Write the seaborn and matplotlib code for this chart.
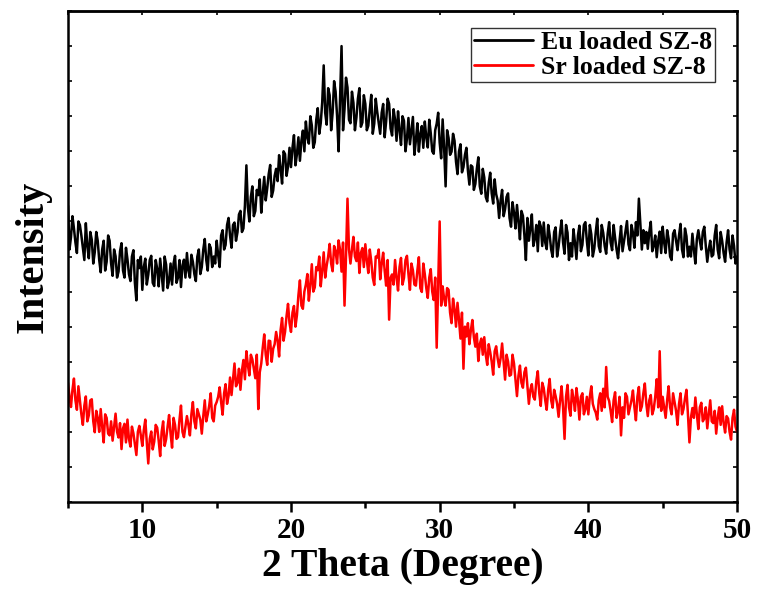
import numpy as np
import pandas as pd
import matplotlib
matplotlib.use("Agg")
import matplotlib.pyplot as plt
import seaborn as sns
from matplotlib.ticker import MultipleLocator

# 2-theta scan grid (degrees), 0.1 degree step from 5 to 50
two_theta = np.round(np.linspace(5.0, 50.0, 451), 1)

# Diffracted intensity (a.u.), ten steps per row = one degree per row
eu_intensity = [
    845, 720, 755, 815, 780, 740, 710, 800, 790, 760,
    725, 690, 795, 730, 695, 770, 748, 680, 712, 770,
    745, 690, 655, 720, 745, 660, 685, 760, 745, 680,
    645, 720, 701, 640, 657, 715, 738, 660, 640, 725,
    692, 650, 630, 700, 718, 625, 575, 690, 667, 700,
    605, 670, 694, 620, 648, 690, 702, 625, 616, 690,
    665, 615, 694, 650, 603, 700, 677, 610, 631, 680,
    620, 680, 702, 625, 640, 690, 613, 675, 691, 640,
    710, 660, 640, 705, 685, 650, 630, 700, 720, 650,
    670, 720, 750, 690, 660, 735, 725, 670, 700, 680,
    745, 705, 670, 760, 775, 720, 733, 790, 810, 760,
    725, 790, 797, 745, 769, 820, 830, 770, 780, 845,
    960, 840, 800, 870, 900, 815, 830, 890, 875, 920,
    825, 880, 927, 860, 894, 935, 961, 870, 888, 930,
    950, 915, 989, 950, 908, 1000, 992, 930, 956, 1010,
    955, 1010, 1046, 960, 992, 1040, 973, 1030, 1059, 1000,
    1085, 1040, 1022, 1100, 1074, 1010, 1026, 1090, 1123, 1050,
    1080, 1140, 1245, 1110, 1076, 1180, 1160, 1060, 1110, 1200,
    1170, 1100, 1000, 1150, 1300, 1060, 1120, 1210, 1182, 1090,
    1080, 1170, 1138, 1060, 1096, 1150, 1180, 1070, 1082, 1160,
    1135, 1060, 1073, 1120, 1161, 1050, 1079, 1150, 1112, 1080,
    1050, 1110, 1135, 1040, 1085, 1150, 1135, 1065, 1045, 1120,
    1090, 1030, 1114, 1060, 1018, 1100, 1087, 1000, 1036, 1095,
    1020, 1060, 1098, 990, 1031, 1080, 999, 1050, 1072, 1010,
    1085, 1040, 1011, 1090, 1052, 1000, 993, 1060, 1079, 1110,
    1025, 980, 1091, 1010, 900, 1060, 1038, 990, 999, 1050,
    1030, 970, 935, 1000, 1020, 940, 955, 990, 1010, 945,
    905, 960, 956, 890, 907, 950, 983, 900, 879, 950,
    925, 870, 857, 910, 939, 880, 851, 920, 878, 860,
    810, 860, 890, 815, 835, 870, 880, 810, 785, 855,
    825, 780, 847, 800, 749, 830, 816, 760, 690, 810,
    745, 780, 820, 730, 750, 790, 715, 800, 786, 730,
    797, 740, 721, 790, 760, 720, 699, 770, 783, 700,
    728, 770, 803, 740, 708, 790, 768, 690, 738, 700,
    778, 740, 693, 760, 788, 715, 733, 790, 798, 745,
    703, 790, 763, 700, 723, 770, 808, 730, 713, 790,
    768, 730, 708, 765, 798, 740, 718, 790, 753, 720,
    695, 745, 787, 715, 744, 775, 801, 735, 718, 790,
    768, 725, 798, 760, 865, 790, 720, 775, 738, 770,
    722, 770, 799, 715, 731, 760, 698, 745, 771, 710,
    785, 740, 710, 775, 750, 700, 690, 765, 775, 745,
    718, 760, 793, 720, 698, 780, 758, 700, 728, 700,
    765, 720, 680, 750, 775, 745, 720, 770, 785, 730,
    685, 720, 745, 700, 705, 760, 790, 720, 695, 770,
    745, 710, 685, 740, 775, 720, 695, 760, 730, 680,
    700,
]

sr_intensity = [
    340, 300, 271, 320, 352, 290, 263, 330, 289, 250,
    220, 275, 301, 230, 247, 290, 293, 230, 199, 260,
    240, 200, 265, 215, 170, 250, 240, 195, 190, 230,
    175, 215, 252, 200, 184, 225, 151, 210, 223, 170,
    235, 180, 158, 215, 196, 165, 134, 200, 217, 190,
    160, 205, 235, 170, 110, 180, 201, 150, 172, 220,
    212, 175, 131, 200, 230, 160, 179, 215, 248, 195,
    155, 240, 220, 180, 185, 235, 275, 200, 185, 215,
    245, 220, 190, 250, 285, 230, 210, 265, 250, 235,
    195, 245, 290, 230, 250, 275, 310, 240, 230, 275,
    285, 300, 327, 285, 249, 310, 336, 280, 303, 355,
    305, 350, 395, 330, 340, 380, 320, 375, 405, 350,
    430, 390, 361, 420, 407, 380, 353, 420, 265, 370,
    395, 440, 478, 420, 391, 460, 459, 400, 437, 450,
    485, 460, 415, 490, 525, 460, 485, 530, 565, 510,
    485, 540, 559, 500, 533, 590, 632, 560, 551, 600,
    620, 650, 574, 620, 678, 600, 612, 670, 661, 700,
    615, 660, 712, 640, 674, 700, 736, 680, 658, 730,
    715, 680, 746, 720, 657, 740, 560, 700, 865, 720,
    680, 720, 756, 700, 687, 740, 653, 710, 724, 670,
    735, 690, 653, 720, 686, 640, 619, 700, 697, 720,
    635, 680, 711, 660, 617, 690, 520, 640, 649, 620,
    690, 640, 603, 670, 696, 620, 639, 690, 702, 650,
    605, 680, 661, 620, 617, 660, 698, 610, 599, 680,
    650, 610, 582, 640, 664, 600, 576, 640, 440, 620,
    800, 560, 615, 580, 560, 610, 605, 540, 510, 580,
    550, 500, 568, 520, 466, 540, 380, 500, 472, 510,
    450, 490, 519, 470, 443, 480, 402, 450, 466, 420,
    470, 420, 391, 450, 427, 400, 363, 430, 444, 410,
    385, 410, 452, 400, 349, 420, 401, 360, 363, 420,
    395, 350, 302, 360, 389, 340, 326, 370, 383, 330,
    280, 320, 336, 300, 292, 345, 373, 310, 274, 340,
    325, 290, 263, 320, 351, 290, 269, 320, 302, 280,
    243, 290, 330, 270, 180, 300, 334, 270, 246, 320,
    295, 260, 325, 290, 235, 300, 310, 250, 265, 300,
    250, 300, 330, 280, 265, 255, 235, 290, 310, 260,
    323, 270, 385, 300, 288, 260, 228, 290, 313, 240,
    260, 300, 190, 270, 240, 310, 300, 250, 270, 290,
    318, 270, 233, 300, 328, 260, 273, 310, 338, 280,
    245, 290, 305, 250, 265, 300, 350, 270, 430, 260,
    300, 270, 240, 290, 330, 270, 250, 310, 285, 260,
    220, 280, 310, 250, 265, 295, 320, 250, 170, 240,
    268, 240, 298, 250, 208, 270, 283, 230, 238, 270,
    210, 250, 290, 230, 225, 260, 195, 240, 270, 220,
    273, 225, 198, 245, 238, 200, 178, 240, 263, 215,
    200,
]

sample_names = ["Eu loaded SZ-8", "Sr loaded SZ-8"]
sample_colors = ["#000000", "#ff0000"]
x_major_ticks = [10, 20, 30, 40, 50]

sns.set_style("ticks")
plt.rcParams["font.family"] = ["Liberation Serif", "DejaVu Serif"]
plt.rcParams["font.weight"] = "bold"
plt.rcParams["axes.labelweight"] = "bold"
plt.rcParams["text.color"] = "black"
plt.rcParams["axes.labelcolor"] = "black"
plt.rcParams["xtick.color"] = "black"
plt.rcParams["ytick.color"] = "black"
plt.rcParams["xtick.labelcolor"] = "black"

frames = []
for name, values in zip(sample_names, [eu_intensity, sr_intensity]):
    frames.append(pd.DataFrame({"two_theta": two_theta,
                                "intensity": values,
                                "sample": name}))
data = pd.concat(frames, ignore_index=True)

fig = plt.figure(figsize=(7.58, 5.99), dpi=100)
ax = fig.add_axes([0.0897, 0.1619, 0.8826, 0.8197])

sns.lineplot(data=data, x="two_theta", y="intensity", hue="sample",
             palette=dict(zip(sample_names, sample_colors)),
             estimator=None, sort=False, linewidth=1.8, ax=ax)

ax.set_xlim(5, 50)
ax.set_ylim(0, 1400)

# frame
for side in ["left", "right", "top", "bottom"]:
    ax.spines[side].set_visible(True)
    ax.spines[side].set_linewidth(1.8)
    ax.spines[side].set_color("black")

# bottom axis: outward major/minor ticks with labels
ax.set_xticks(x_major_ticks)
ax.xaxis.set_minor_locator(MultipleLocator(5))
ax.tick_params(axis="x", which="major", direction="out", length=7, width=1.8,
               labelsize=21, pad=4, bottom=True, top=False)
ax.tick_params(axis="x", which="minor", direction="out", length=4, width=1.8,
               bottom=True, top=False)

# top axis: small inward ticks, no labels
top = ax.secondary_xaxis("top")
top.set_xticks(np.arange(5, 51, 5))
top.tick_params(direction="in", length=3, width=1.2, labeltop=False,
                color="black")
top.spines["top"].set_linewidth(1.8)

# y axis: inward ticks on both sides, no labels
ax.yaxis.set_major_locator(MultipleLocator(100))
ax.tick_params(axis="y", which="major", direction="in", length=3, width=1.2,
               left=True, right=True, labelleft=False)

for lbl in ax.get_xticklabels():
    lbl.set_fontweight("bold")

ax.set_xlabel("2 Theta (Degree)", fontsize=28.5, fontweight="bold", labelpad=3)
ax.set_ylabel("Intensity", fontsize=29, fontweight="bold", labelpad=12)

leg = ax.legend(loc="upper right", bbox_to_anchor=(0.967, 0.965),
                borderaxespad=0, frameon=True, fancybox=False, framealpha=1,
                prop={"size": 18.5, "weight": "bold"}, handlelength=2.3,
                handletextpad=0.3, borderpad=0.12, labelspacing=0.05)
leg.get_frame().set_edgecolor("#333333")
leg.get_frame().set_linewidth(1.0)
for line in leg.get_lines():
    line.set_linewidth(2.0)

fig.savefig("out.png", dpi=100)
